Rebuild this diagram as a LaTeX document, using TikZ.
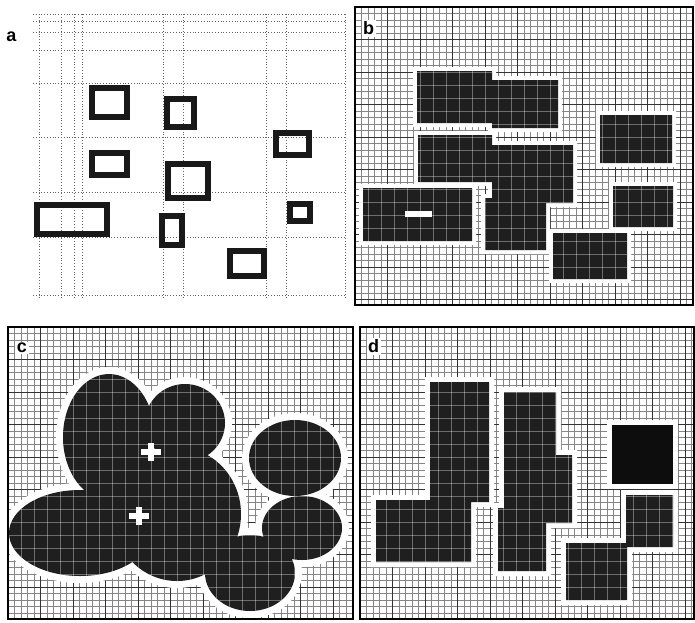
\documentclass[tikz,border=0pt]{standalone}
\usepackage{fontspec}
\setsansfont{Liberation Sans}

% 网格: x0, y0, x1, y1, 间距, 样式
\newcommand{\linegrid}[6]{%
  \begin{scope}
    \clip (#1,#2) rectangle (#3,#4);
    \foreach \k in {0,...,60} {
      \draw[#6] ({#1+#5*\k},#2) -- ({#1+#5*\k},#4);
      \draw[#6] (#1,{#2+#5*\k}) -- (#3,{#2+#5*\k});
    }
  \end{scope}}

% 各面板的暗块 (x0/y0/x1/y1, 像素坐标, y 向下)
\newcommand{\rectsB}{417/71/492/123, 492/80/558/128, 418/135/492/182,
  492/145/573/203, 485/198/546/250, 363/188/472/241,
  600/115/672/163, 613/186/673/227, 553/233/627/279}
% 面板 c 的圆团 (中心 x/中心 y/半径 x/半径 y)
\newcommand{\blobsC}{109/437/46/63, 185/423/40/39, 177/514/64/67,
  80/533/71/43, 250/573/45/38, 295/458/46/38, 302/528/40/32}
\newcommand{\rectsD}{430/382/489/502, 376/500/471/562, 504/392/556/523,
  550/455/572/523, 498/508/546/571, 626/495/673/547, 566/543/627/600}

\begin{document}
\begin{tikzpicture}[x=1pt, y=-1pt,
  fineline/.style={black!48, line width=0.55pt},
  majorline/.style={black!80, line width=0.8pt},
  cellline/.style={white, opacity=0.35, line width=0.6pt},
  aline/.style={black!60, dotted, line width=0.8pt},
  abox/.style={draw=black!90, line width=6pt},
  panelframe/.style={draw=black, line width=1.8pt},
  dark/.style={fill=black!88},
  halo/.style={fill=white},
  lbl/.style={fill=white, inner sep=1.5pt,
    font=\sffamily\bfseries\fontsize{18}{18}\selectfont}]
  \useasboundingbox (0,0) rectangle (695,622);

  % 面板 a: 稀疏点线 + 空心框
  \foreach \gx in {39,61,74,82,163,183,266,286,345}
    \draw[aline] (\gx,14) -- (\gx,298);
  \foreach \gy in {14,21,32,50,83,137,192,237,295}
    \draw[aline] (33,\gy) -- (345,\gy);
  \foreach \xa/\ya/\xb/\yb in {89/85/130/120, 164/96/197/130, 273/130/312/158,
      89/150/130/178, 165/161/211/201, 34/202/110/237, 287/201/313/224,
      159/213/185/248, 227/248/267/279}
    \draw[abox] ({\xa+3},{\ya+3}) rectangle ({\xb-3},{\yb-3});
  \node[lbl, fill=none] (lblA) at (11.5,37) {a};

  % 面板 b
  \linegrid{355}{7}{693}{305}{6.5}{fineline}
  \linegrid{355}{7}{693}{305}{32.5}{majorline}
  \fill[halo] foreach \xa/\ya/\xb/\yb in \rectsB {({\xa-4},{\ya-4}) rectangle ({\xb+4},{\yb+4})};
  \fill[dark] foreach \xa/\ya/\xb/\yb in \rectsB {(\xa,\ya) rectangle (\xb,\yb)};
  \begin{scope}
    \clip foreach \xa/\ya/\xb/\yb in \rectsB {(\xa,\ya) rectangle (\xb,\yb)};
    \linegrid{355}{7}{693}{305}{13}{cellline}
  \end{scope}
  \fill[white] (405,211) rectangle (432,217);
  \draw[panelframe] (355,7) rectangle (693,305);
  \node[lbl] (lblB) at (368.5,28.5) {b};

  % 面板 c: 圆团
  \linegrid{8}{327}{353}{619}{6.5}{fineline}
  \linegrid{8}{327}{353}{619}{32.5}{majorline}
  \begin{scope}
    \clip (8,327) rectangle (353,619);
    \fill[halo] foreach \cx/\cy/\rx/\ry in \blobsC {(\cx,\cy) ellipse [x radius={\rx+7}, y radius={\ry+7}]};
  \end{scope}
  \fill[dark] foreach \cx/\cy/\rx/\ry in \blobsC {(\cx,\cy) ellipse [x radius=\rx, y radius=\ry]};
  \begin{scope}
    \clip foreach \cx/\cy/\rx/\ry in \blobsC {(\cx,\cy) ellipse [x radius=\rx, y radius=\ry]};
    \linegrid{8}{327}{353}{619}{13}{cellline}
  \end{scope}
  % 白色十字
  \foreach \cx/\cy in {151/452, 139/516}
    \draw[white, line width=6pt] ({\cx-10},\cy) -- ({\cx+10},\cy)
      (\cx,{\cy-9}) -- (\cx,{\cy+9});
  \draw[panelframe] (8,327) rectangle (353,619);
  \node[lbl] (lblC) at (22,348) {c};

  % 面板 d
  \linegrid{360}{327}{694}{619}{6.5}{fineline}
  \linegrid{360}{327}{694}{619}{32.5}{majorline}
  \fill[halo] foreach \xa/\ya/\xb/\yb in \rectsD {({\xa-5},{\ya-5}) rectangle ({\xb+5},{\yb+5})};
  \fill[halo] (607,420) rectangle (678,489);
  \fill[dark] foreach \xa/\ya/\xb/\yb in \rectsD {(\xa,\ya) rectangle (\xb,\yb)};
  \begin{scope}
    \clip foreach \xa/\ya/\xb/\yb in \rectsD {(\xa,\ya) rectangle (\xb,\yb)};
    \linegrid{360}{327}{694}{619}{13}{cellline}
  \end{scope}
  \fill[black!95] (612,425) rectangle (673,484);
  \draw[panelframe] (360,327) rectangle (694,619);
  \node[lbl] (lblD) at (373.5,346.5) {d};
\end{tikzpicture}
\end{document}
